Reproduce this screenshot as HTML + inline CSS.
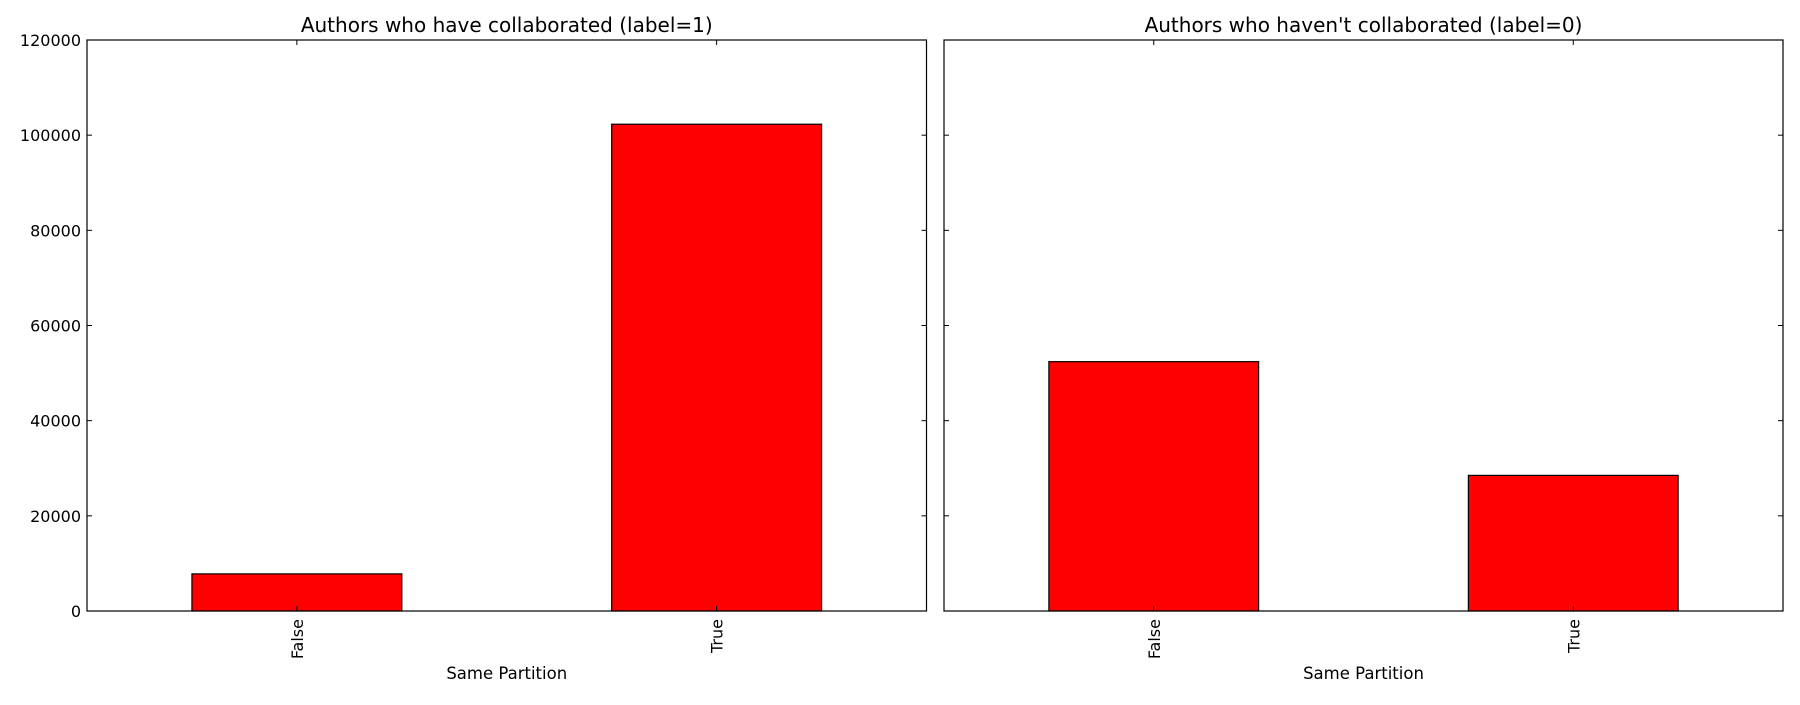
<!DOCTYPE html>
<html><head><meta charset="utf-8"><style>
body{margin:0;background:#fff}
text{font-family:"DejaVu Sans","Liberation Sans",sans-serif;fill:#000}
</style></head><body>
<svg id="chart" width="1800" height="700" xmlns="http://www.w3.org/2000/svg"></svg>
<script>
const categories = ["False", "True"];
const collabValues = [7800, 102300];
const nonCollabValues = [52400, 28500];
const yTicks = [0, 20000, 40000, 60000, 80000, 100000, 120000];
const titles = ["Authors who have collaborated (label=1)", "Authors who haven't collaborated (label=0)"];
const NS = "http://www.w3.org/2000/svg";
const svg = document.getElementById('chart');
function mk(tag, attrs, parent){const e=document.createElementNS(NS,tag);for(const k in attrs)e.setAttribute(k,attrs[k]);(parent||svg).appendChild(e);return e;}
const plotTop=40, plotBottom=611, yMax=120000;
const yScale = v => plotBottom - v/yMax*(plotBottom-plotTop);
const panels = [{x0:87,x1:926.5,vals:collabValues,labels:true},{x0:944,x1:1783,vals:nonCollabValues,labels:false}];
panels.forEach((p,pi)=>{
  const g = mk('g',{});
  
  
  const xs = c => p.x0 + (c+0.5)/2*(p.x1-p.x0);
  const bw = 0.5/2*(p.x1-p.x0);
  p.vals.forEach((v,i)=>{
    const r = mk('rect',{x:xs(i)-bw/2,y:yScale(v),width:bw,height:plotBottom-yScale(v),fill:'#ff0000',stroke:'#000','stroke-width':1.2},g);
    
    
  });
  yTicks.forEach(t=>{
    mk('line',{x1:p.x0,x2:p.x0+5,y1:yScale(t),y2:yScale(t),stroke:'#000'},g);
    mk('line',{x1:p.x1,x2:p.x1-5,y1:yScale(t),y2:yScale(t),stroke:'#000'},g);
    if(p.labels){
      const tx = mk('text',{x:p.x0-6,y:yScale(t)+6,'text-anchor':'end','font-size':16},g);
      tx.textContent = t;
      
      
    }
  });
  categories.forEach((c,i)=>{
    const X = xs(i);
    mk('line',{x1:X,x2:X,y1:plotBottom,y2:plotBottom-5,stroke:'#000'},g);
    mk('line',{x1:X,x2:X,y1:plotTop,y2:plotTop+5,stroke:'#000'},g);
    const tx = mk('text',{x:0,y:0,'text-anchor':'end','font-size':16,transform:`translate(${X+6},${plotBottom+8}) rotate(-90)`},g);
    tx.textContent = c;
    
    
  });
  mk('rect',{x:p.x0,y:plotTop,width:p.x1-p.x0,height:plotBottom-plotTop,fill:'none',stroke:'#000','stroke-width':1.2},g);
  const xl = mk('text',{x:(p.x0+p.x1)/2,y:679,'text-anchor':'middle','font-size':16.5},g);
  xl.textContent = 'Same Partition';
  
  
  const tl = mk('text',{x:(p.x0+p.x1)/2,y:32,'text-anchor':'middle','font-size':20},g);
  tl.textContent = titles[pi];
  
  
});
</script>
</body></html>
